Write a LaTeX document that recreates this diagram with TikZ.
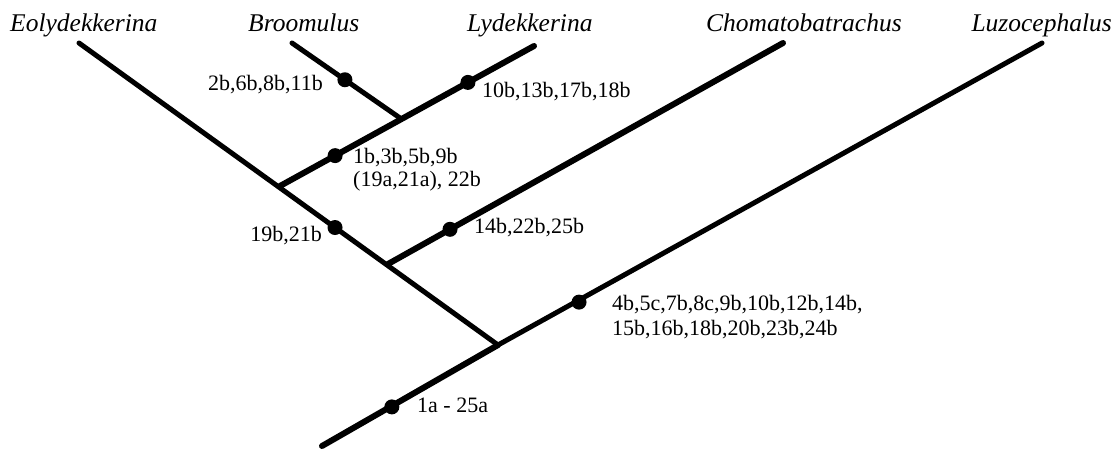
\documentclass[tikz,border=0pt]{standalone}
\usepackage{fontspec}
\setmainfont{Liberation Serif}
\begin{document}
\begin{tikzpicture}[x=1pt,y=-1pt,
  branch/.style={line width=5pt,line cap=round},
  heavybranch/.style={line width=6pt,line cap=round},
  apo/.style={circle,fill=black,inner sep=0pt,minimum size=15pt},
  taxon/.style={font=\fontsize{25.5}{29}\selectfont\itshape,anchor=base west,inner sep=0pt},
  chars/.style={font=\fontsize{22}{25}\selectfont,anchor=base west,inner sep=0pt,align=left}]
\useasboundingbox (0,0) rectangle (1116,453);

% tree nodes and tips
\coordinate (root)  at (322,446);
\coordinate (n1)    at (498,345);
\coordinate (luzo)  at (1042,43);
\coordinate (eoly)  at (79,43);
\coordinate (n2)    at (388,264);
\coordinate (choma) at (783,43);
\coordinate (n3)    at (280,186);
\coordinate (lyde)  at (534,46);
\coordinate (n4)    at (400,118);
\coordinate (broo)  at (292,43);

% branches
\draw[heavybranch] (root) -- (n1);
\draw[branch] (n1) -- (luzo);
\draw[branch] (eoly) -- (n1);
\draw[heavybranch] (n2) -- (choma);
\draw[heavybranch] (n3) -- (lyde);
\draw[branch] (broo) -- (n4);

% character-state markers
\path (root) -- (luzo) node[apo,pos=0.097] (dRoot) {} node[apo,pos=0.357] (dLuzo) {};
\path (eoly) -- (n1) node[apo,pos=0.611] (dClade) {};
\path (n2) -- (choma) node[apo,pos=0.157] (dChoma) {};
\path (n3) -- (lyde) node[apo,pos=0.217] (dLB) {} node[apo,pos=0.74] (dLyde) {};
\path (broo) -- (n4) node[apo,pos=0.49] (dBroo) {};

% taxon names
\node[taxon] (tEoly)  at (10,31)  {Eolydekkerina};
\node[taxon] (tBroo)  at (248,31) {Broomulus};
\node[taxon] (tLyde)  at (467,31) {Lydekkerina};
\node[taxon] (tChoma) at (706,31) {Chomatobatrachus};
\node[taxon,anchor=base east] (tLuzo)  at (1112,31) {Luzocephalus};

% character lists
\node[chars,anchor=base east] (cBroo) at (323,90) {2b,6b,8b,11b};
\node[chars] (cLyde) at (482,97) {10b,13b,17b,18b};
\node[chars] (cLB1) at (353,163) {1b,3b,5b,9b};
\node[chars] (cLB2) at (353,186) {(19a,21a), 22b};
\node[chars,anchor=base east] (cClade) at (322,241) {19b,21b};
\node[chars] (cChoma) at (474,233) {14b,22b,25b};
\node[chars] (cLuzo1) at (612,310) {4b,5c,7b,8c,9b,10b,12b,14b,};
\node[chars] (cLuzo2) at (612,335) {15b,16b,18b,20b,23b,24b};
\node[chars] (cRoot) at (417,412) {1a - 25a};
\end{tikzpicture}
\end{document}
